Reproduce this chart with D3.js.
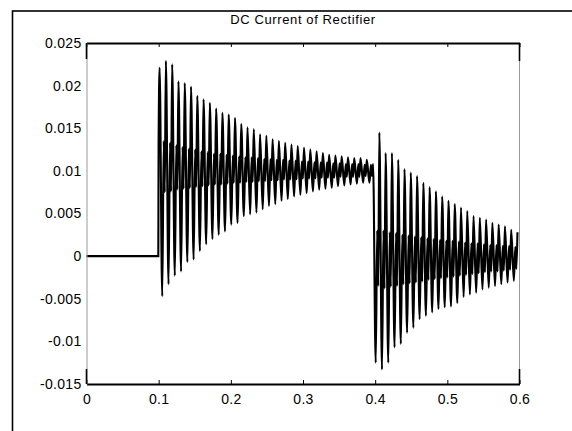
<!DOCTYPE html>
<html>
<head>
<meta charset="utf-8">
<script src="https://cdnjs.cloudflare.com/ajax/libs/d3/7.8.5/d3.min.js"></script>
<style>
body { margin: 0; background: #fff; }
text { font-family: "Liberation Sans", Arial, sans-serif; }
</style>
</head>
<body>
<div id="chart"></div>
<script>
// tick labels
var xTicks = [0, 0.1, 0.2, 0.3, 0.4, 0.5, 0.6];
var yTicks = [-0.015, -0.01, -0.005, 0, 0.005, 0.01, 0.015, 0.02, 0.025];
var yTickLabels = ["-0.015", "-0.01", "-0.005", "0", "0.005", "0.01", "0.015", "0.02", "0.025"];

// flat part before the switch-on
var leadT = [0, 0.0995, 0.0999];
var leadV = [0, 0, 0.0130];

// one entry per ripple cycle
var cycleStart = 0.1013;
var cyclePeriod = 0.0087;
var peaks = [0.0221, 0.0229, 0.0225, 0.0205, 0.0203, 0.0199, 0.0188, 0.0184, 0.0180, 0.0173,
	0.0168, 0.0166, 0.0162, 0.0155, 0.0151, 0.0149, 0.0143, 0.0141, 0.0137, 0.0135,
	0.0133, 0.0131, 0.0129, 0.0127, 0.0125, 0.0123, 0.0121, 0.0119, 0.0118, 0.0117,
	0.0116, 0.0115, 0.0115, 0.0113, 0.0108,
	0.0145, 0.0121, 0.0121, 0.0113, 0.0102, 0.0098, 0.0094, 0.0086, 0.0081, 0.0076,
	0.0070, 0.0065, 0.0061, 0.0057, 0.0053, 0.0047, 0.0045, 0.0043, 0.0039, 0.0037,
	0.0035, 0.0031, 0.0028];
var troughs = [-0.0047, -0.0033, -0.0023, -0.0018, -0.0007, -0.0004, 0.0006, 0.0014, 0.0020, 0.0025,
	0.0029, 0.0037, 0.0039, 0.0047, 0.0049, 0.0051, 0.0055, 0.0059, 0.0061, 0.0065,
	0.0067, 0.0070, 0.0072, 0.0074, 0.0076, 0.0078, 0.0079, 0.0080, 0.0082, 0.0083,
	0.0084, 0.0085, 0.0086, 0.0086,
	-0.0125,
	-0.0133, -0.0125, -0.0107, -0.0103, -0.0090, -0.0084, -0.0074, -0.0070, -0.0066, -0.0062,
	-0.0060, -0.0059, -0.0055, -0.0048, -0.0045, -0.0043, -0.0039, -0.0037, -0.0035, -0.0033,
	-0.0031, -0.0029];
var midHi = [0.0135, 0.0133, 0.0130, 0.0128, 0.0126, 0.0125, 0.0123, 0.0122, 0.0120, 0.0120,
	0.0119, 0.0118, 0.0117, 0.0116, 0.0116, 0.0115, 0.0114, 0.0114, 0.0113, 0.0113,
	0.0112, 0.0112, 0.0111, 0.0111, 0.0110, 0.0110, 0.0110, 0.0109, 0.0109, 0.0108,
	0.0108, 0.0108, 0.0107, 0.0107,
	0.0030,
	0.0030, 0.0028, 0.0027, 0.0025, 0.0024, 0.0023, 0.0022, 0.0021, 0.0020, 0.0019,
	0.0018, 0.0018, 0.0017, 0.0016, 0.0015, 0.0015, 0.0014, 0.0013, 0.0013, 0.0012,
	0.0012, 0.0011];
var midLo = [0.0075, 0.0076, 0.0078, 0.0079, 0.0080, 0.0081, 0.0082, 0.0083, 0.0084, 0.0084,
	0.0085, 0.0086, 0.0086, 0.0087, 0.0087, 0.0088, 0.0088, 0.0089, 0.0089, 0.0090,
	0.0090, 0.0090, 0.0091, 0.0091, 0.0091, 0.0092, 0.0092, 0.0092, 0.0093, 0.0093,
	0.0093, 0.0093, 0.0094, 0.0094,
	-0.0035,
	-0.0038, -0.0036, -0.0035, -0.0033, -0.0032, -0.0031, -0.0030, -0.0028, -0.0027, -0.0026,
	-0.0025, -0.0024, -0.0023, -0.0022, -0.0021, -0.0020, -0.0019, -0.0018, -0.0018, -0.0017,
	-0.0016, -0.0015];

var svg_width = 572, svg_height = 431;
var axLeft = 86.5, axRight = 519.5, axTop = 43, axBottom = 384;

var svg = d3.select("#chart")
	.append("svg")
	.attr("width", svg_width)
	.attr("height", svg_height);

var x = d3.scaleLinear().domain([0, 0.6]).range([axLeft, axRight]);
var y = d3.scaleLinear().domain([-0.015, 0.025]).range([axBottom, axTop]);

// figure frame (only left/top edge shows)
svg.append("rect")
	.attr("x", 12.5).attr("y", 11)
	.attr("width", 600).attr("height", 460)
	.style("fill", "none")
	.style("stroke", "#000")
	.style("stroke-width", 1.6);

// build the trace: peak -> trough -> shoulder -> dip -> next peak
var pts = [];
leadT.forEach(function(t, i) { pts.push([t, leadV[i]]); });
peaks.forEach(function(p, i) {
	var t0 = cycleStart + i * cyclePeriod;
	pts.push([t0, p]);
	if (i < troughs.length) {
		pts.push([t0 + 0.42 * cyclePeriod, troughs[i]]);
		pts.push([t0 + 0.66 * cyclePeriod, midHi[i]]);
		pts.push([t0 + 0.82 * cyclePeriod, midLo[i]]);
	}
});

var line = d3.line()
	.curve(d3.curveMonotoneX)
	.x(function(d) { return x(d[0]); })
	.y(function(d) { return y(d[1]); });

svg.append("path")
	.datum(pts)
	.attr("d", line)
	.style("fill", "none")
	.style("stroke", "#000")
	.style("stroke-width", 2.1);

// axes box
var xAxisB = d3.axisBottom(x).tickValues(xTicks).tickSizeInner(-4).tickSizeOuter(0).tickPadding(10)
	.tickFormat(function(d) { return d3.format("")(d); });
var gx = svg.append("g")
	.attr("transform", "translate(0," + axBottom + ")")
	.call(xAxisB);
gx.select(".domain").style("stroke", "#000").style("stroke-width", 2);
gx.selectAll(".tick line").style("stroke", "#000");
gx.selectAll(".tick text")
	.style("font-size", "14px")
	.style("letter-spacing", "0.3px")
	.style("fill", "#000");

var gxt = svg.append("g")
	.attr("transform", "translate(0," + axTop + ")")
	.call(d3.axisTop(x).tickValues(xTicks).tickSizeInner(-4).tickSizeOuter(0).tickFormat(""));
gxt.select(".domain").style("stroke", "#000").style("stroke-width", 2);

var yAxis = d3.axisLeft(y).tickValues(yTicks).tickSize(0).tickPadding(5)
	.tickFormat(function(d, i) { return yTickLabels[i]; });
var gy = svg.append("g")
	.attr("transform", "translate(" + axLeft + ",0)")
	.call(yAxis);
gy.select(".domain").style("stroke", "#999").style("stroke-width", 1);
gy.selectAll(".tick text")
	.style("font-size", "14px")
	.style("letter-spacing", "0.3px")
	.style("fill", "#000");

svg.append("line")
	.attr("x1", axRight).attr("x2", axRight)
	.attr("y1", axTop).attr("y2", axBottom)
	.style("stroke", "#999");

// dark corner strokes
[[axLeft, axTop, axTop + 16], [axRight, axTop, axTop + 18], [axLeft, axBottom - 15, axBottom], [axRight, axBottom - 15, axBottom]]
	.forEach(function(c) {
		svg.append("line")
			.attr("x1", c[0]).attr("x2", c[0])
			.attr("y1", c[1]).attr("y2", c[2])
			.style("stroke", "#000")
			.style("stroke-width", 1.6);
	});

svg.append("text")
	.attr("x", (axLeft + axRight) / 2)
	.attr("y", 24)
	.attr("text-anchor", "middle")
	.style("font-size", "13px")
	.style("letter-spacing", "0.6px")
	.text("DC Current of Rectifier");
</script>
</body>
</html>
